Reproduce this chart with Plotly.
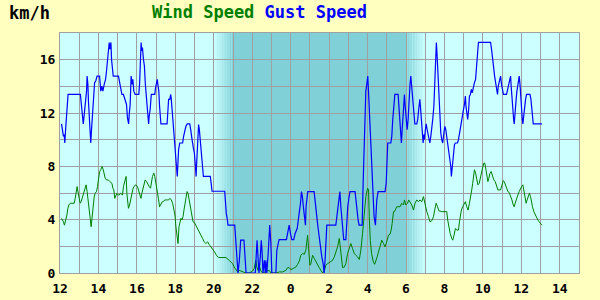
import plotly.graph_objects as go

# ---- data (hours counted from midnight of day 1; 24+ = next day) ----
gust_hours = [12.08, 12.13, 12.18, 12.22, 12.25, 12.29, 12.32, 12.36, 12.42, 13.06, 13.12, 13.17, 13.21, 13.26,
              13.29, 13.33, 13.38, 13.41, 13.45, 13.48, 13.52, 13.57, 13.60, 13.64, 13.67, 13.71, 13.74, 13.80,
              13.86, 13.93, 14.06, 14.09, 14.12, 14.18, 14.23, 14.30, 14.37, 14.42, 14.47, 14.52, 14.56, 14.59,
              14.65, 14.68, 14.73, 14.77, 15.04, 15.10, 15.15, 15.22, 15.30, 15.39, 15.46, 15.51, 15.57, 15.60,
              15.65, 15.70, 15.76, 15.79, 15.84, 15.91, 16.10, 16.14, 16.18, 16.22, 16.25, 16.29, 16.34, 16.39,
              16.44, 16.49, 16.54, 16.57, 16.61, 16.64, 16.69, 16.75, 16.93, 16.97, 17.02, 17.06, 17.09, 17.14,
              17.18, 17.21, 17.25, 17.57, 17.60, 17.65, 17.71, 17.76, 17.79, 17.83, 17.88, 17.93, 17.97, 18.02,
              18.07, 18.10, 18.14, 18.17, 18.23, 18.38, 18.43, 18.49, 18.55, 18.62, 18.75, 18.80, 18.83, 18.87,
              18.94, 18.99, 19.04, 19.08, 19.11, 19.14, 19.18, 19.21, 19.25, 19.28, 19.32, 19.35, 19.39, 19.42,
              19.46, 19.82, 19.86, 19.91, 20.57, 20.60, 20.65, 20.71, 20.74, 21.09, 21.12, 21.19, 21.26, 21.33,
              21.40, 21.57, 21.61, 21.68, 22.16, 22.20, 22.25, 22.30, 22.35, 22.42, 22.47, 22.51, 22.56, 22.63,
              22.68, 22.71, 22.76, 22.84, 22.91, 22.97, 23.02, 23.23, 23.28, 23.35, 23.40, 23.78, 23.85, 23.92,
              23.99, 24.06, 24.16, 24.23, 24.34, 24.40, 24.46, 24.51, 24.56, 24.61, 24.66, 24.72, 24.77, 24.80,
              24.86, 24.89, 25.22, 25.27, 25.32, 25.38, 25.43, 25.48, 25.55, 25.62, 25.69, 25.74, 25.79, 25.83,
              25.88, 26.35, 26.40, 26.45, 26.50, 26.56, 26.61, 26.66, 26.71, 26.76, 26.87, 26.92, 26.97, 27.04,
              27.09, 27.35, 27.40, 27.46, 27.51, 27.56, 27.72, 27.77, 27.82, 27.87, 27.91, 27.96, 28.01, 28.06,
              28.12, 28.17, 28.22, 28.27, 28.34, 28.41, 28.45, 28.48, 28.55, 28.91, 28.97, 29.00, 29.05, 29.21,
              29.26, 29.31, 29.38, 29.42, 29.59, 29.64, 29.68, 29.73, 29.76, 29.80, 29.83, 29.87, 29.92, 29.95,
              30.01, 30.06, 30.11, 30.14, 30.18, 30.21, 30.25, 30.28, 30.32, 30.37, 30.42, 30.46, 30.56, 30.61,
              30.66, 30.72, 30.75, 30.80, 30.86, 30.89, 30.93, 30.96, 31.01, 31.05, 31.10, 31.17, 31.24, 31.29,
              31.34, 31.39, 31.45, 31.48, 31.51, 31.55, 31.58, 31.62, 31.65, 31.69, 31.72, 31.76, 31.81, 31.86,
              31.91, 31.97, 32.02, 32.07, 32.12, 32.17, 32.22, 32.28, 32.33, 32.36, 32.40, 32.43, 32.47, 32.52,
              32.57, 32.68, 32.73, 32.78, 32.83, 32.88, 32.93, 32.99, 33.04, 33.09, 33.12, 33.16, 33.21, 33.26,
              33.30, 33.35, 33.40, 33.45, 33.51, 33.56, 33.62, 33.67, 33.72, 33.77, 34.40, 34.45, 34.50, 34.55,
              34.61, 34.66, 34.71, 34.76, 34.80, 34.87, 34.92, 34.97, 35.02, 35.07, 35.23, 35.28, 35.34, 35.39,
              35.44, 35.47, 35.51, 35.56, 35.60, 35.63, 35.66, 35.70, 35.73, 35.77, 35.82, 35.89, 35.93, 35.96,
              35.99, 36.05, 36.08, 36.12, 36.17, 36.22, 36.27, 36.45, 36.50, 36.55, 36.58, 36.62, 37.07]
gust_kmh = [11.18, 10.75, 10.25, 10.38, 9.75, 10.75, 11.51, 12.64, 13.39, 13.39, 12.26, 11.51, 11.18, 11.88,
            12.26, 12.89, 13.64, 14.77, 14.15, 12.89, 11.63, 10.75, 9.75, 10.75, 11.51, 12.89, 13.64, 14.27,
            14.40, 14.77, 14.77, 14.40, 13.64, 14.02, 13.64, 14.15, 14.52, 15.15, 16.03, 16.66, 17.29, 16.78,
            17.29, 16.03, 15.28, 14.77, 14.77, 14.27, 13.89, 13.39, 13.39, 13.02, 12.64, 11.63, 11.18, 11.88,
            12.64, 14.77, 14.15, 14.52, 13.64, 13.39, 13.39, 14.15, 16.03, 17.29, 16.66, 16.91, 16.03, 15.53,
            14.15, 13.39, 12.64, 11.76, 11.18, 11.76, 12.26, 13.39, 13.39, 13.89, 14.27, 14.52, 14.15, 13.64,
            12.51, 11.63, 11.18, 11.18, 12.01, 13.02, 13.02, 13.39, 13.02, 12.26, 11.63, 10.50, 9.50, 8.49,
            7.61, 7.24, 8.37, 9.25, 9.75, 9.75, 10.25, 10.75, 11.00, 11.18, 11.18, 10.75, 10.25, 10.00,
            9.37, 9.00, 8.12, 7.24, 8.24, 9.25, 10.25, 11.13, 10.75, 10.25, 9.75, 9.12, 8.37, 7.99,
            7.24, 7.24, 6.86, 6.13, 6.13, 5.48, 4.47, 3.97, 3.59, 3.59, 2.96, 1.21, 0.00, 0.95,
            2.46, 2.46, 1.21, 0.00, 0.00, 0.95, 2.46, 1.21, 0.00, 1.21, 2.46, 1.70, 0.00, 0.95,
            0.00, 0.95, 0.00, 1.70, 3.59, 2.20, 0.00, 0.00, 1.70, 2.20, 2.51, 2.51, 3.20, 3.59,
            2.96, 2.51, 2.51, 2.96, 3.34, 3.97, 4.60, 5.23, 6.10, 5.73, 4.97, 4.22, 3.59, 4.97,
            5.73, 6.10, 6.10, 5.23, 4.60, 3.97, 3.34, 2.71, 1.96, 1.21, 0.70, 0.00, 0.95, 2.20,
            3.59, 3.59, 4.22, 4.97, 5.73, 6.10, 4.97, 4.22, 3.34, 2.51, 2.51, 3.97, 4.97, 5.73,
            6.10, 6.10, 5.23, 4.47, 3.97, 3.59, 3.59, 6.73, 9.75, 12.01, 13.64, 14.15, 14.77, 13.27,
            11.51, 9.75, 7.74, 5.98, 4.22, 3.59, 4.72, 5.48, 6.10, 6.10, 6.73, 7.99, 9.75, 9.75,
            10.25, 11.51, 12.64, 13.39, 13.39, 12.51, 11.51, 10.25, 9.75, 10.75, 11.51, 12.51, 13.39, 12.64,
            11.51, 10.75, 11.51, 12.51, 13.27, 14.15, 14.77, 14.27, 13.27, 12.26, 11.51, 11.18, 11.18, 11.51,
            12.26, 13.02, 12.51, 11.51, 10.75, 9.75, 10.38, 10.00, 10.75, 11.18, 10.75, 10.25, 9.75, 10.25,
            10.75, 11.51, 12.51, 13.39, 14.77, 16.28, 17.29, 16.28, 15.28, 14.27, 12.26, 11.00, 10.50, 10.00,
            9.75, 10.50, 11.00, 10.75, 10.25, 9.75, 9.25, 8.49, 7.99, 7.24, 7.99, 8.37, 9.00, 9.62,
            9.75, 9.75, 10.00, 10.50, 10.88, 11.13, 11.76, 12.26, 12.64, 13.27, 12.51, 11.76, 11.51, 12.26,
            13.27, 13.39, 13.77, 13.52, 14.02, 14.27, 14.52, 15.78, 16.41, 17.29, 17.29, 16.78, 16.28, 15.53,
            14.77, 14.27, 13.64, 13.39, 14.02, 14.52, 14.77, 14.15, 13.64, 13.39, 13.39, 13.77, 14.27, 14.52,
            14.77, 14.02, 13.02, 12.26, 11.51, 11.18, 12.01, 12.51, 13.02, 13.64, 14.27, 14.77, 14.15, 13.27,
            12.26, 11.51, 11.18, 11.88, 12.51, 13.02, 13.39, 13.39, 13.02, 12.26, 11.63, 11.18, 11.18]

wind_hours = [12.08, 12.13, 12.18, 12.23, 12.30, 12.36, 12.41, 12.46, 12.53, 12.74, 12.79, 12.84, 12.89, 12.95,
              13.00, 13.05, 13.10, 13.15, 13.22, 13.29, 13.36, 13.41, 13.47, 13.52, 13.57, 13.62, 13.67, 13.73,
              13.78, 13.83, 13.90, 13.95, 14.00, 14.06, 14.12, 14.19, 14.25, 14.30, 14.35, 14.42, 14.51, 14.59,
              14.70, 14.75, 14.80, 14.85, 14.90, 14.96, 15.03, 15.08, 15.15, 15.25, 15.30, 15.36, 15.41, 15.44,
              15.48, 15.53, 15.56, 15.62, 15.67, 15.72, 15.79, 15.84, 15.95, 16.03, 16.08, 16.14, 16.21, 16.26,
              16.31, 16.38, 16.43, 16.50, 16.57, 16.64, 16.71, 16.76, 16.81, 16.88, 16.93, 16.99, 17.06, 17.13,
              17.18, 17.25, 17.32, 17.38, 17.45, 17.55, 17.65, 17.72, 17.79, 17.86, 17.93, 17.98, 18.03, 18.09,
              18.14, 18.19, 18.24, 18.29, 18.35, 18.40, 18.45, 18.50, 18.55, 18.61, 18.66, 18.71, 18.76, 18.82,
              18.87, 18.92, 18.99, 19.07, 19.16, 19.24, 19.33, 19.42, 19.50, 19.59, 19.68, 19.76, 19.85, 19.94,
              20.04, 20.14, 20.25, 20.63, 20.72, 20.80, 20.89, 20.98, 21.06, 21.15, 21.24, 21.32, 21.41, 21.50,
              21.67, 21.84, 22.02, 22.10, 22.16, 22.19, 22.24, 22.30, 22.36, 22.45, 22.54, 22.68, 22.75, 22.80,
              22.88, 22.97, 23.23, 23.41, 23.58, 23.75, 23.84, 23.93, 24.01, 24.10, 24.19, 24.27, 24.36, 24.45,
              24.53, 24.62, 24.71, 24.79, 24.88, 24.93, 25.00, 25.05, 25.14, 25.23, 25.31, 25.40, 25.49, 25.57,
              25.66, 25.75, 25.83, 25.92, 26.01, 26.09, 26.18, 26.27, 26.35, 26.44, 26.53, 26.61, 26.70, 26.79,
              26.87, 26.96, 27.05, 27.13, 27.22, 27.31, 27.39, 27.48, 27.57, 27.65, 27.74, 27.83, 27.91, 28.00,
              28.05, 28.09, 28.14, 28.21, 28.30, 28.37, 28.45, 28.50, 28.57, 28.65, 28.74, 28.83, 28.91, 28.97,
              29.03, 29.09, 29.17, 29.23, 29.28, 29.31, 29.35, 29.40, 29.45, 29.52, 29.69, 29.78, 29.87, 29.92,
              29.99, 30.08, 30.14, 30.21, 30.30, 30.39, 30.47, 30.56, 30.65, 30.73, 30.82, 30.91, 30.96, 31.01,
              31.08, 31.17, 31.25, 31.34, 31.43, 31.51, 31.57, 31.64, 31.71, 31.86, 32.12, 32.17, 32.23, 32.30,
              32.38, 32.43, 32.50, 32.57, 32.64, 32.73, 32.78, 32.83, 32.88, 32.95, 33.02, 33.09, 33.16, 33.23,
              33.30, 33.37, 33.42, 33.47, 33.53, 33.56, 33.62, 33.67, 33.74, 33.81, 33.86, 33.91, 33.98, 34.05,
              34.10, 34.16, 34.21, 34.26, 34.31, 34.36, 34.43, 34.50, 34.57, 34.64, 34.71, 34.78, 34.92, 34.99,
              35.06, 35.11, 35.16, 35.23, 35.30, 35.37, 35.44, 35.51, 35.58, 35.63, 35.68, 35.75, 35.82, 35.89,
              35.94, 36.01, 36.08, 36.13, 36.20, 36.25, 36.30, 36.37, 36.42, 36.48, 36.53, 36.58, 36.65, 36.72,
              36.79, 36.86, 36.93, 37.00, 37.07]
wind_kmh = [4.10, 3.97, 3.84, 3.59, 3.97, 4.35, 4.85, 5.10, 5.23, 5.23, 5.60, 6.11, 6.48, 5.98,
            5.60, 5.23, 5.35, 5.60, 5.98, 6.36, 6.61, 6.11, 5.48, 4.85, 4.10, 3.47, 4.22, 5.23,
            5.73, 5.98, 6.11, 6.48, 7.11, 7.61, 7.74, 7.99, 7.74, 7.49, 7.11, 6.98, 6.98, 6.86,
            6.73, 6.36, 6.23, 5.60, 5.85, 5.98, 5.85, 5.85, 5.98, 5.85, 6.48, 6.86, 6.98, 7.24,
            5.98, 5.23, 4.85, 5.10, 5.48, 5.98, 6.28, 6.48, 6.61, 6.48, 6.23, 5.98, 5.60, 5.98,
            6.23, 6.73, 6.98, 6.86, 6.61, 6.48, 6.36, 6.86, 7.24, 7.49, 7.24, 6.73, 6.23, 5.48,
            4.97, 5.23, 5.35, 5.35, 5.48, 5.48, 5.48, 5.60, 5.48, 5.23, 4.60, 4.35, 3.47, 2.59,
            2.21, 3.47, 3.97, 4.10, 3.97, 4.22, 4.72, 5.23, 5.73, 6.11, 5.98, 5.60, 5.23, 4.60,
            4.35, 3.84, 3.79, 3.59, 3.34, 3.09, 2.84, 2.59, 2.34, 2.21, 2.34, 2.14, 1.96, 1.83,
            1.58, 1.33, 1.16, 1.16, 1.08, 0.95, 0.83, 0.70, 0.45, 0.25, 0.08, 0.20, 0.15, 0.08,
            0.00, 0.00, 0.15, 0.33, 0.70, 0.95, 0.45, 0.20, 0.58, 0.15, 0.00, 0.08, 0.25, 0.15,
            0.20, 0.00, 0.00, 0.08, 0.08, 0.20, 0.40, 0.40, 0.25, 0.30, 0.35, 0.45, 0.65, 0.90,
            1.33, 1.46, 1.41, 1.71, 2.84, 1.71, 0.58, 0.70, 1.33, 1.08, 0.83, 0.65, 0.40, 0.20,
            0.00, 0.15, 0.58, 0.70, 0.78, 0.83, 0.95, 1.21, 1.51, 1.96, 2.59, 1.71, 0.40, 0.45,
            0.70, 1.46, 1.96, 2.21, 1.83, 1.46, 1.33, 1.21, 1.01, 1.71, 2.96, 4.35, 5.73, 6.36,
            6.23, 4.22, 2.46, 1.46, 0.83, 0.65, 0.95, 1.21, 1.58, 1.96, 2.46, 2.21, 1.96, 2.21,
            2.59, 2.84, 2.91, 3.22, 3.72, 3.97, 4.60, 4.60, 4.72, 4.97, 4.97, 5.23, 5.10, 5.48,
            5.10, 5.23, 5.48, 5.35, 5.10, 4.72, 5.23, 5.48, 5.35, 5.48, 5.35, 5.73, 5.35, 4.97,
            4.60, 4.22, 3.84, 3.92, 4.22, 4.85, 5.23, 4.97, 4.67, 4.60, 4.60, 3.97, 3.47, 2.96,
            2.59, 2.46, 2.84, 3.34, 3.22, 3.22, 3.84, 4.35, 4.72, 4.97, 5.23, 5.35, 4.97, 4.72,
            5.23, 5.73, 6.23, 6.73, 7.24, 7.74, 7.49, 7.11, 6.61, 6.73, 7.11, 7.49, 7.86, 8.24,
            8.24, 7.74, 7.24, 6.86, 7.11, 7.44, 7.61, 7.24, 6.98, 6.86, 6.48, 6.23, 6.23, 6.61,
            6.93, 6.86, 6.61, 6.28, 6.11, 6.03, 5.78, 5.48, 5.10, 4.97, 5.23, 5.60, 5.85, 6.11,
            6.28, 6.48, 6.61, 6.23, 5.60, 5.23, 5.48, 5.85, 5.98, 5.73, 5.23, 4.97, 4.60, 4.35,
            4.22, 3.97, 3.84, 3.72, 3.59]

x_range = [12, 39]
x_ticks = list(range(12, 40))
x_labels = [str(h % 24) if h % 2 == 0 else "" for h in x_ticks]
y_ticks = list(range(0, 20, 2))
y_labels = [str(v) if v % 4 == 0 else "" for v in y_ticks]

dusk_start, dusk_end = 20.0, 21.0
dawn_start, dawn_end = 30.0, 31.0

PAPER = "#FFFFC0"
PLOT = (204, 255, 255)
NIGHT = (128, 208, 216)
GRID = "#A0A0A0"
FONT = "DejaVu Sans Mono"


def mix(a, b, t):
    return "rgb(%d,%d,%d)" % tuple(round(a[i] + (b[i] - a[i]) * t) for i in range(3))


shapes = [dict(type="rect", xref="x", yref="paper", x0=dusk_end, x1=dawn_start, y0=0, y1=1,
               fillcolor=mix(NIGHT, NIGHT, 0), line_width=0, layer="below")]
n = 12
for i in range(n):
    t = (i + 0.5) / n
    w = (dusk_end - dusk_start) / n
    shapes.append(dict(type="rect", xref="x", yref="paper", x0=dusk_start + i * w, x1=dusk_start + (i + 1) * w,
                       y0=0, y1=1, fillcolor=mix(PLOT, NIGHT, t), line_width=0, layer="below"))
    w2 = (dawn_end - dawn_start) / n
    shapes.append(dict(type="rect", xref="x", yref="paper", x0=dawn_start + i * w2, x1=dawn_start + (i + 1) * w2,
                       y0=0, y1=1, fillcolor=mix(NIGHT, PLOT, t), line_width=0, layer="below"))

fig = go.Figure()
fig.add_trace(go.Scatter(x=wind_hours, y=wind_kmh, mode="lines", line=dict(color="#008000", width=1),
                         name="Wind Speed"))
fig.add_trace(go.Scatter(x=gust_hours, y=gust_kmh, mode="lines", line=dict(color="#0000FF", width=1.2),
                         name="Gust Speed"))

fig.update_layout(
    width=600, height=300,
    margin=dict(l=60, r=21, t=33, b=27, pad=0),
    paper_bgcolor=PAPER,
    plot_bgcolor=mix(PLOT, PLOT, 0),
    showlegend=False,
    shapes=shapes,
    font=dict(family=FONT, color="black"),
    annotations=[
        dict(xref="paper", yref="paper", x=(150 - 60) / 519, y=(273 - 12) / 240, xanchor="left", yanchor="middle",
             showarrow=False, font=dict(family=FONT, size=17, weight="bold"),
             text="<span style='color:#008000'>Wind Speed</span> <span style='color:#0000FF'>Gust Speed</span>"),
        dict(xref="paper", yref="paper", x=(7 - 60) / 519, y=(273 - 13) / 240, xanchor="left", yanchor="middle",
             showarrow=False, font=dict(family=FONT, size=17, weight="bold", color="black"), text="km/h"),
    ],
)
fig.update_xaxes(range=x_range, tickmode="array", tickvals=x_ticks, ticktext=x_labels, automargin=False,
                 showgrid=True, gridcolor=GRID, gridwidth=1, zeroline=False,
                 showline=True, mirror=True, linecolor=GRID, linewidth=1, ticks="", ticklabelstandoff=3,
                 tickfont=dict(family=FONT, size=13, weight="bold", color="black"), fixedrange=True)
fig.update_yaxes(range=[0, 18], tickmode="array", tickvals=y_ticks, ticktext=y_labels, automargin=False,
                 showgrid=True, gridcolor=GRID, gridwidth=1, zeroline=False,
                 showline=True, mirror=True, linecolor=GRID, linewidth=1, ticks="", ticklabelstandoff=1,
                 tickfont=dict(family=FONT, size=13, weight="bold", color="black"), fixedrange=True)

fig.write_html("out.html", config={"displayModeBar": False})
